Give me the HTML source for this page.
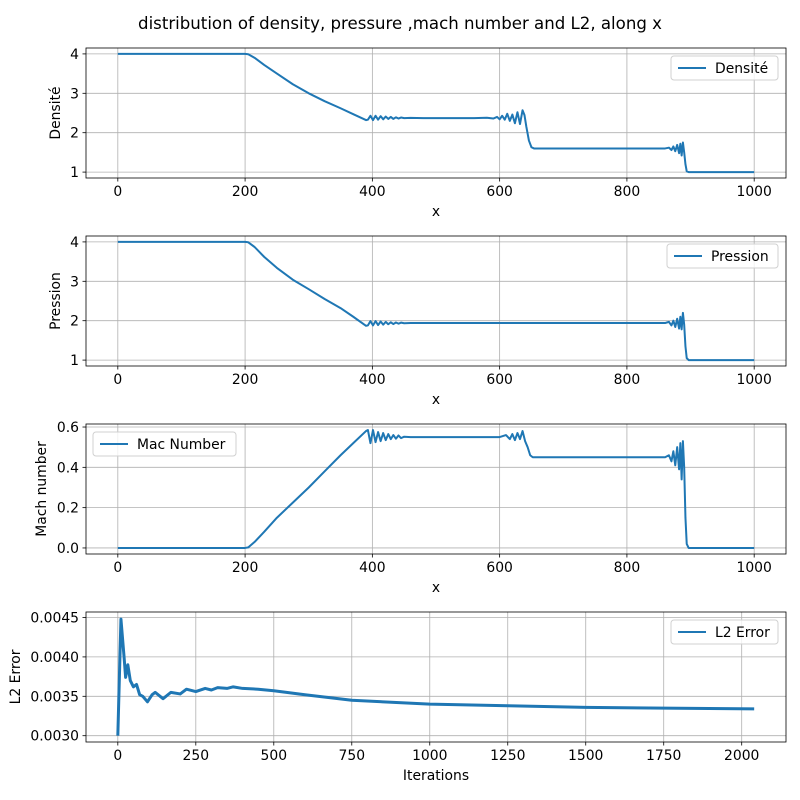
<!DOCTYPE html>
<html><head><meta charset="utf-8">
<style>
html,body{margin:0;padding:0;background:#fff;}
svg{display:block;font-family:"DejaVu Sans","Liberation Sans",sans-serif;}
</style></head>
<body>
<svg id="fig" width="800" height="800" xmlns="http://www.w3.org/2000/svg">
<rect width="800" height="800" fill="#fff"/>
<text x="400" y="29" text-anchor="middle" font-size="16.6" fill="#000">distribution of density, pressure ,mach number and L2, along x</text>
</svg>
<script>
// ---- data ----
const densityX = [0,200,205,215,230,250,275,300,325,350,370,390,393,397,401,405,409,413,417,421,425,429,433,437,441,445,450,460,480,500,560,580,590,596,600,604,608,612,616,620,624,628,632,636,639,642,646,650,654,660,860,866,870,873,876,879,882,884,886,888,890,892,894,897,900,1000];
const densityY = [4,4,3.99,3.9,3.72,3.5,3.23,3.0,2.8,2.62,2.47,2.32,2.33,2.43,2.32,2.43,2.33,2.42,2.34,2.41,2.35,2.40,2.35,2.39,2.36,2.385,2.37,2.375,2.37,2.37,2.37,2.38,2.36,2.40,2.34,2.43,2.33,2.48,2.30,2.46,2.24,2.52,2.22,2.57,2.45,2.15,1.80,1.63,1.60,1.60,1.60,1.62,1.56,1.65,1.53,1.69,1.48,1.72,1.42,1.75,1.50,1.20,1.02,1.0,1.0,1.0];
const pressureX = [0,200,205,215,230,250,275,300,325,350,370,390,393,397,401,405,409,413,417,421,425,429,433,437,441,445,450,460,480,860,866,870,873,876,879,882,884,886,888,890,892,894,897,900,1000];
const pressureY = [4,4,3.99,3.87,3.62,3.34,3.04,2.8,2.55,2.32,2.1,1.87,1.88,1.99,1.88,1.99,1.89,1.98,1.90,1.97,1.91,1.96,1.915,1.955,1.925,1.95,1.935,1.94,1.94,1.94,1.97,1.88,2.0,1.84,2.05,1.80,2.10,1.78,2.20,1.90,1.35,1.05,1.0,1.0,1.0];
const machX = [0,200,205,215,230,250,275,300,325,350,370,390,393,397,401,405,409,413,417,421,425,429,433,437,441,445,450,460,480,600,610,616,620,624,628,632,636,640,644,648,652,660,860,866,870,873,876,879,882,884,886,888,890,892,894,897,900,1000];
const machY = [0,0,0.003,0.03,0.08,0.15,0.225,0.30,0.38,0.46,0.52,0.58,0.585,0.52,0.585,0.525,0.575,0.53,0.57,0.535,0.565,0.54,0.56,0.542,0.558,0.545,0.552,0.55,0.55,0.55,0.56,0.54,0.565,0.535,0.57,0.54,0.58,0.53,0.50,0.46,0.45,0.45,0.45,0.46,0.43,0.48,0.41,0.50,0.39,0.52,0.34,0.53,0.40,0.15,0.02,0,0,0];
const l2X = [0,10,20,25,32,40,50,60,70,80,95,110,120,145,170,200,220,250,280,300,320,350,370,400,450,500,600,750,1000,1250,1500,1750,2040];
const l2Y = [0.0030,0.00448,0.0040,0.00374,0.0039,0.0037,0.00362,0.00365,0.00352,0.0035,0.00343,0.00352,0.00355,0.00347,0.00355,0.00353,0.00359,0.00356,0.0036,0.00358,0.00361,0.0036,0.00362,0.0036,0.00359,0.00357,0.00352,0.00345,0.0034,0.00338,0.00336,0.00335,0.00334];
const xTicks = [0,200,400,600,800,1000];
const xTickLabels = ["0","200","400","600","800","1000"];
const densTicks = [1,2,3,4];
const presTicks = [1,2,3,4];
const machTicks = [0,0.2,0.4,0.6];
const machTickLabels = ["0.0","0.2","0.4","0.6"];
const l2Ticks = [0.0030,0.0035,0.0040,0.0045];
const l2TickLabels = ["0.0030","0.0035","0.0040","0.0045"];
const iterTicks = [0,250,500,750,1000,1250,1500,1750,2000];
const iterTickLabels = ["0","250","500","750","1000","1250","1500","1750","2000"];

const NS="http://www.w3.org/2000/svg";
const svg=document.getElementById('fig');
function mk(tag,attrs,parent){const e=document.createElementNS(NS,tag);for(const k in attrs)e.setAttribute(k,attrs[k]);(parent||svg).appendChild(e);return e;}

function panel(o){
  const g=mk('g',{});
  
  
  const L=86,R=786,T=o.top,B=o.top+130;
  const sx=v=>L+(v-o.xmin)/(o.xmax-o.xmin)*(R-L);
  const sy=v=>B-(v-o.ymin)/(o.ymax-o.ymin)*(B-T);
  o.xt.forEach((t,i)=>{
    const gl=mk('line',{x1:sx(t),x2:sx(t),y1:T,y2:B,stroke:'#b0b0b0','stroke-width':0.8},g);
    
    
    mk('line',{x1:sx(t),x2:sx(t),y1:B,y2:B+3.5,stroke:'#000','stroke-width':0.8},g);
    const tx=mk('text',{x:sx(t),y:B+18,'text-anchor':'middle','font-size':13.9,fill:'#000'},g);
    tx.textContent=o.xl[i];
    
    
  });
  o.yt.forEach((t,i)=>{
    const gl=mk('line',{x1:L,x2:R,y1:sy(t),y2:sy(t),stroke:'#b0b0b0','stroke-width':0.8},g);
    
    
    mk('line',{x1:L-3.5,x2:L,y1:sy(t),y2:sy(t),stroke:'#000','stroke-width':0.8},g);
    const tx=mk('text',{x:L-7,y:sy(t)+5,'text-anchor':'end','font-size':13.9,fill:'#000'},g);
    tx.textContent=o.yl[i];
    
    
  });
  let d='';
  o.X.forEach((x,i)=>{d+=(i?'L':'M')+sx(x).toFixed(2)+','+sy(o.Y[i]).toFixed(2);});
  const p=mk('path',{d:d,fill:'none',stroke:'#1f77b4','stroke-width':o.lw||2,'stroke-linejoin':'round'},g);
  
  
  const fr=mk('rect',{x:L,y:T,width:R-L,height:B-T,fill:'none',stroke:'#000','stroke-width':0.8},g);
  
  
  const xl=mk('text',{x:(L+R)/2,y:B+38,'text-anchor':'middle','font-size':13.9,fill:'#000'},g);
  xl.textContent=o.xlabel;
  
  
  const yl=mk('text',{x:0,y:0,'text-anchor':'middle','font-size':13.9,fill:'#000',transform:`translate(${o.ylx},${(T+B)/2}) rotate(-90)`},g);
  yl.textContent=o.ylabel;
  
  
  const lg=mk('g',{},g);
  
  
  mk('rect',{x:o.lg[0],y:T+8,width:o.lg[1],height:24,rx:3,fill:'#fff','fill-opacity':0.8,stroke:'#d0d0d0','stroke-width':1},lg);
  mk('line',{x1:o.lg[0]+7,x2:o.lg[0]+35,y1:T+20,y2:T+20,stroke:'#1f77b4','stroke-width':2},lg);
  const lt=mk('text',{x:o.lg[0]+44,y:T+25,'font-size':13.9,fill:'#000'},lg);
  lt.textContent=o.legend;
  
  
}

panel({name:'density-panel',top:48,xmin:-50,xmax:1050,ymin:0.85,ymax:4.15,xt:xTicks,xl:xTickLabels,yt:densTicks,yl:densTicks.map(String),X:densityX,Y:densityY,seriesName:'density-line',xlabel:'x',ylabel:'Densité',ylx:60,lg:[671,107],legend:'Densité'});
panel({name:'pressure-panel',top:236,xmin:-50,xmax:1050,ymin:0.85,ymax:4.15,xt:xTicks,xl:xTickLabels,yt:presTicks,yl:presTicks.map(String),X:pressureX,Y:pressureY,seriesName:'pressure-line',xlabel:'x',ylabel:'Pression',ylx:60,lg:[667,111],legend:'Pression'});
panel({name:'mach-panel',top:424,xmin:-50,xmax:1050,ymin:-0.03,ymax:0.615,xt:xTicks,xl:xTickLabels,yt:machTicks,yl:machTickLabels,X:machX,Y:machY,seriesName:'mach-line',xlabel:'x',ylabel:'Mach number',ylx:46,lg:[93,143],legend:'Mac Number'});
panel({name:'l2-panel',top:612,xmin:-102,xmax:2142,ymin:0.00292,ymax:0.00457,xt:iterTicks,xl:iterTickLabels,yt:l2Ticks,yl:l2TickLabels,X:l2X,Y:l2Y,seriesName:'l2-error-line',lw:3,xlabel:'Iterations',ylabel:'L2 Error',ylx:20,lg:[671,107],legend:'L2 Error'});
</script>
</body></html>
